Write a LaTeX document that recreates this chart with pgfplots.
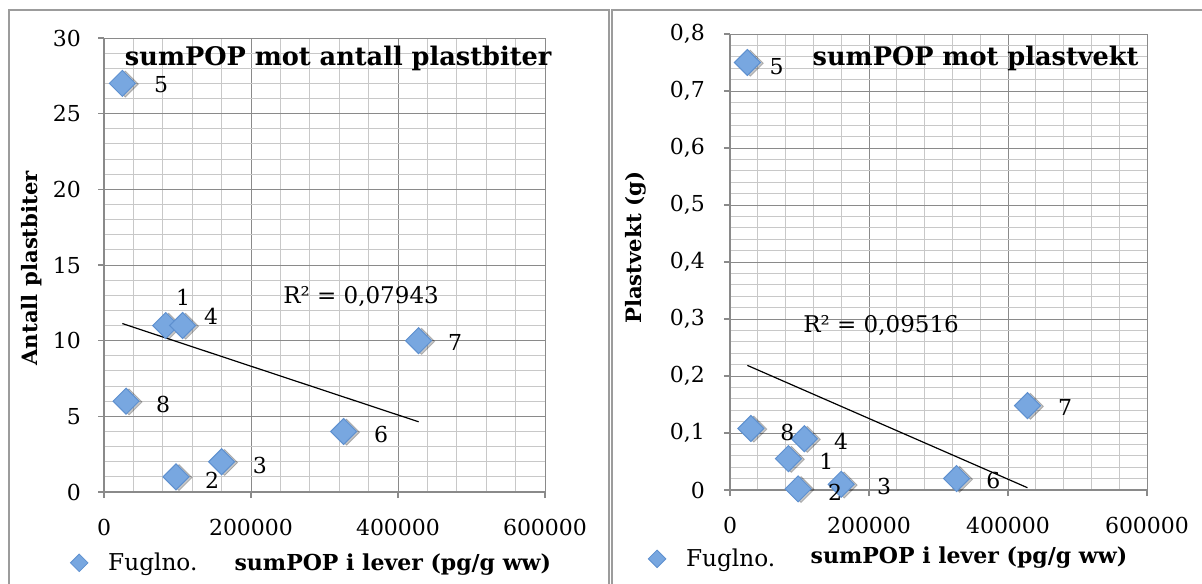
\documentclass[border=0pt]{standalone}
\usepackage{fontspec}
\setmainfont{DejaVu Serif}
\usepackage{pgfplots}
\usepackage{pgfplotstable}
\pgfplotsset{compat=1.18}
\definecolor{markfill}{HTML}{78A7E0}
\definecolor{markdraw}{HTML}{5E90CF}
\definecolor{gridmaj}{HTML}{8A8A8A}
\definecolor{gridmin}{HTML}{C8C8C8}
\definecolor{framecol}{HTML}{9C9C9C}

\pgfplotstableread{
id x n w
1 84000 11 0.055
2 98000 1 0.002
3 160000 2 0.010
4 107000 11 0.090
5 25000 27 0.750
6 326000 4 0.020
7 428000 10 0.148
8 30000 6 0.108
}\fugl

% label positions (left chart: lx, ly; right chart: rx, ry)
\pgfplotstableread{
id lx ly rx ry
1 107480 12.89 138800 0.0509
2 146940 0.79 151100 -0.0044
3 212240 1.78 221600 0.007
4 145580 11.63 159700 0.0849
5 77550 26.9 67100 0.742
6 376870 3.77 379100 0.017
7 477550 9.91 482000 0.1456
8 80270 5.81 82450 0.1012
}\labpos

\pgfplotsset{
  every axis title shift=0pt,
  mystyle/.style={
    scale only axis, anchor=south west, clip=false,
    xmin=0, xmax=600000,
    axis x line=bottom, axis y line=left,
    axis line style={gridmaj, line width=0.7pt, -},
    xtick={0,200000,400000,600000},
    xticklabels={0,200000,400000,600000},
    scaled ticks=false,
    minor x tick num=4,
    minor y tick num=4,
    grid=both,
    major grid style={gridmaj, line width=0.5pt},
    minor grid style={gridmin, line width=0.5pt},
    tick align=outside, major tick length=3pt, minor tick length=0pt,
    tick style={gridmaj, line width=0.6pt},
    /pgf/number format/assume math mode=true,
    tick label style={font=\fontsize{11}{13}\selectfont},
    xticklabel style={yshift=-7pt},
    title style={font=\bfseries\fontsize{12.8}{14}\selectfont, anchor=center},
    label style={font=\bfseries\fontsize{11}{13}\selectfont},
    ylabel style={font=\bfseries\fontsize{10.6}{13}\selectfont},
    xlabel style={anchor=center},
    ylabel style={anchor=center},
    legend style={draw=none, fill=none, anchor=west, inner sep=0pt,
      nodes={font=\fontsize{11.6}{13}\selectfont, inner sep=2pt}},
    legend image code/.code={\draw[only marks, mark=square*, mark size=3.1pt, mark options={rotate=45, fill=markfill, draw=markdraw, line width=0.4pt}] plot coordinates {(0pt,0pt)}; \path[draw=none, fill=none] (-4.4pt,0pt) -- (12.5pt,0pt);},
  },
  markstyle/.style={only marks, mark=square*, mark size=4.6pt, mark options={rotate=45, fill=markfill, draw=markdraw, line width=0.5pt}},
  shadowstyle/.style={only marks, mark=square*, mark size=4.6pt, mark options={rotate=45, fill=black, draw=none, opacity=0.22, xshift=0.8pt, yshift=-1.3pt}, forget plot},
  labstyle/.style={only marks, mark=none, forget plot, nodes near coords, point meta=explicit symbolic,
    every node near coord/.style={font=\fontsize{11}{13}\selectfont, anchor=center, black, inner sep=0pt}},
}

\begin{document}
\begin{tikzpicture}
\useasboundingbox (0,0) rectangle (601pt,291.5pt);
% frames
\draw[framecol, line width=0.85pt] (4.5pt,-2pt) -- (4.5pt,286.5pt) -- (304.5pt,286.5pt) -- (304.5pt,-2pt);
\draw[framecol, line width=0.85pt] (306pt,-2pt) -- (306pt,286.5pt) -- (603pt,286.5pt);

% left chart
\begin{axis}[mystyle,
  at={(52pt,45.5pt)}, width=220.5pt, height=227pt,
  ymin=0, ymax=30, ytick={0,5,...,30},
  yticklabel style={xshift=-5pt},
  title={sumPOP mot antall plastbiter},
  title style={at={(axis description cs:0.531,0.956)}},
  xlabel={sumPOP i lever (pg/g ww)},
  xlabel style={at={(axis description cs:0.655,-0.159)}},
  ylabel={Antall plastbiter},
  ylabel style={at={(axis description cs:-0.163,0.493)}},
  legend style={at={(axis description cs:-0.077,-0.156)}},
]
\addplot[shadowstyle] table[x=x, y=n] {\fugl};
\addplot[markstyle] table[x=x, y=n] {\fugl};
\addlegendentry{Fuglno.}
\addplot[black, line width=0.6pt, forget plot] coordinates {(25000,11.13) (428000,4.64)};
\addplot[labstyle] table[x=lx, y=ly, meta=id] {\labpos};
\node[font=\fontsize{11.5}{13}\selectfont, anchor=center] at (axis cs:349700,12.89) {R² = 0,07943};
\end{axis}

% right chart
\begin{axis}[mystyle,
  at={(365pt,46.5pt)}, width=208.5pt, height=228pt,
  ymin=0, ymax=0.8, ytick={0,0.1,...,0.8},
  yticklabels={0,{0,1},{0,2},{0,3},{0,4},{0,5},{0,6},{0,7},{0,8}},
  yticklabel style={xshift=-6pt},
  title={sumPOP mot plastvekt},
  title style={at={(axis description cs:0.589,0.947)}},
  xlabel={sumPOP i lever (pg/g ww)},
  xlabel style={at={(axis description cs:0.573,-0.149)}},
  ylabel={Plastvekt (g)},
  ylabel style={at={(axis description cs:-0.225,0.531)}},
  legend style={at={(axis description cs:-0.197,-0.151)}},
]
\addplot[shadowstyle] table[x=x, y=w] {\fugl};
\addplot[markstyle] table[x=x, y=w] {\fugl};
\addlegendentry{Fuglno.}
\addplot[black, line width=0.6pt, forget plot] coordinates {(25000,0.2186) (428000,0.004)};
\addplot[labstyle] table[x=rx, y=ry, meta=id] {\labpos};
\node[font=\fontsize{11.5}{13}\selectfont, anchor=center] at (axis cs:217300,0.2877) {R² = 0,09516};
\end{axis}
\end{tikzpicture}
\end{document}
